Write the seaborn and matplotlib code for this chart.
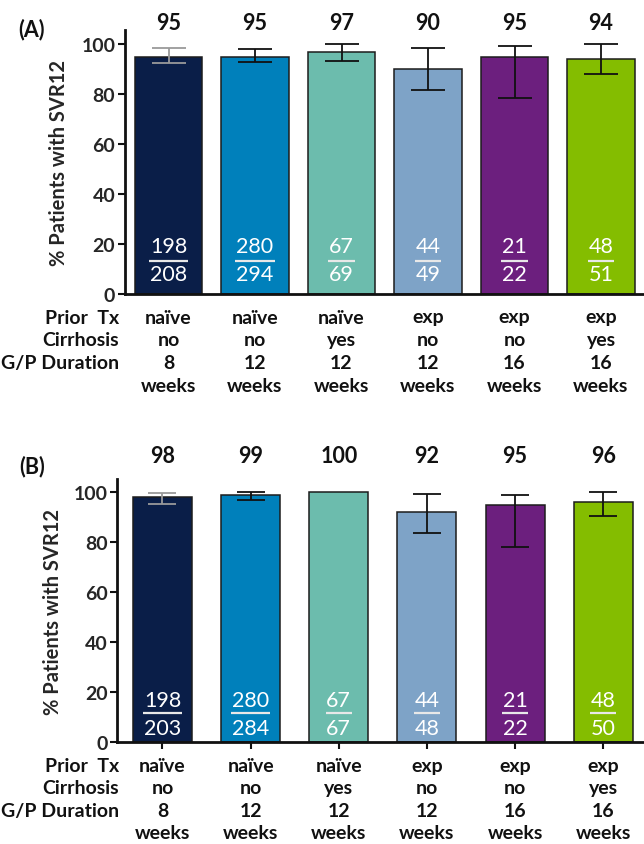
import matplotlib
matplotlib.use("Agg")
import matplotlib.pyplot as plt
import matplotlib.transforms as mtransforms
import numpy as np
import pandas as pd
import seaborn as sns

# ---- data -------------------------------------------------------------
groups = ["naïve/no/8", "naïve/no/12", "naïve/yes/12",
          "exp/no/12", "exp/no/16", "exp/yes/16"]
prior_tx = ["naïve", "naïve", "naïve", "exp", "exp", "exp"]
cirrhosis = ["no", "no", "yes", "no", "no", "yes"]
duration = ["8", "12", "12", "12", "16", "16"]
row_titles = ["Prior  Tx", "Cirrhosis", "G/P Duration"]
colors = ["#0a1e48", "#0080bb", "#6cbcad", "#7ea3c7", "#6c1f7e", "#84bd00"]
errbar_colors = ["#9a9a9a", "#111111", "#111111", "#111111", "#111111", "#111111"]

# (A) ITT
svr_a = [95, 95, 97, 90, 95, 94]
ci_low_a = [92.4, 93.0, 93.2, 81.6, 78.4, 87.9]
ci_high_a = [98.3, 97.9, 100.0, 98.4, 99.3, 100.0]
num_a = [198, 280, 67, 44, 21, 48]
den_a = [208, 294, 69, 49, 22, 51]

# (B) mITT
svr_b = [98, 99, 100, 92, 95, 96]
ci_low_b = [95.2, 97.1, np.nan, 83.6, 78.2, 90.5]
ci_high_b = [99.7, 100.0, np.nan, 99.5, 99.1, 100.0]
num_b = [198, 280, 67, 44, 21, 48]
den_b = [203, 284, 67, 48, 22, 50]

W, H = 644, 845
sns.set_theme(style="ticks")
plt.rcParams["font.family"] = ["Lato", "DejaVu Sans"]

fig = plt.figure(figsize=(W / 100, H / 100), dpi=100)


def px_rect(left, top, right, bottom):
    return [left / W, 1 - bottom / H, (right - left) / W, (bottom - top) / H]


def draw_panel(rect, ylim_top, xlim, bar_width, capsize, svr, lo, hi, num, den,
               label_y, frac_y, show_xticks, ylabel_x, letter, letter_xy, rows_y):
    ax = fig.add_axes(rect)
    df = pd.DataFrame({"group": groups, "svr": svr})
    sns.barplot(data=df, x="group", y="svr", hue="group", order=groups,
                hue_order=groups, palette=colors, saturation=1, dodge=False,
                legend=False, width=bar_width, edgecolor="#1c1c1c", linewidth=1.1,
                errorbar=None, ax=ax, zorder=2)

    for i in range(len(groups)):
        if np.isnan(lo[i]):
            continue
        ax.errorbar(i, svr[i], yerr=[[svr[i] - lo[i]], [hi[i] - svr[i]]],
                    fmt="none", ecolor=errbar_colors[i], elinewidth=1.3,
                    capsize=capsize, capthick=1.3, zorder=3)

    for i, v in enumerate(svr):
        ax.text(i, label_y, f"{v}", ha="center", va="center", fontsize=15.5,
                fontweight="bold", color="#111111", clip_on=False)

    # n / N fractions inside the bars
    fig.canvas.draw()
    renderer = fig.canvas.get_renderer()
    px_per_unit = ax.transData.transform((1, 0))[0] - ax.transData.transform((0, 0))[0]
    ny, ly, dy = frac_y
    for i in range(len(groups)):
        t1 = ax.text(i, ny, f"{num[i]}", ha="center", va="center",
                     fontsize=15.5, color="white", zorder=4)
        t2 = ax.text(i, dy, f"{den[i]}", ha="center", va="center",
                     fontsize=15.5, color="white", zorder=4)
        wpx = max(t1.get_window_extent(renderer).width,
                  t2.get_window_extent(renderer).width)
        half = wpx / px_per_unit / 2
        ax.plot([i - half, i + half], [ly, ly], color="#e8e8e8", lw=1.6,
                solid_capstyle="butt", zorder=4)

    ax.set_xlim(*xlim)
    ax.set_ylim(0, ylim_top)
    ax.set_yticks([0, 20, 40, 60, 80, 100])
    ax.set_yticklabels(["0", "20", "40", "60", "80", "100"],
                       fontsize=14, fontweight="bold")
    ax.set_xticks(range(len(groups)))
    ax.set_xticklabels([""] * len(groups))
    ax.set_xlabel("")
    ax.set_ylabel("% Patients with SVR12", fontsize=14.5, fontweight="bold")
    ax.yaxis.set_label_coords(ylabel_x, 0.5)
    ax.tick_params(axis="y", direction="out", length=5, width=1.5, color="#111111", pad=2)
    if show_xticks:
        ax.tick_params(axis="x", direction="out", length=5, width=1.5, color="#111111")
    else:
        ax.tick_params(axis="x", length=0)
    sns.despine(ax=ax)
    for s in ("left", "bottom"):
        ax.spines[s].set_linewidth(2.0)
        ax.spines[s].set_color("#111111")

    # patient characteristics rows under the bars
    blend = mtransforms.blended_transform_factory(ax.transData, fig.transFigure)
    row_vals = [prior_tx, cirrhosis, duration, ["weeks"] * len(groups)]
    for r, y in enumerate(rows_y):
        yf = 1 - y / H
        if r < 3:
            fig.text(119 / W, yf, row_titles[r], ha="right", va="center",
                     fontsize=14, fontweight="bold", color="#111111")
        for i, val in enumerate(row_vals[r]):
            ax.text(i, yf, val, transform=blend, ha="center", va="center",
                    fontsize=14, fontweight="bold", color="#111111", clip_on=False)

    fig.text(letter_xy[0] / W, 1 - letter_xy[1] / H, letter, ha="center",
             va="center", fontsize=15.5, fontweight="bold", color="#111111")
    return ax


draw_panel(px_rect(125, 31, 644, 295), 105.6, (-0.503, 5.497), 0.775, 11.9,
           svr_a, ci_low_a, ci_high_a, num_a, den_a,
           label_y=108.8, frac_y=(19.1, 13.2, 8.0), show_xticks=False,
           ylabel_x=(69 - 125) / 519, letter="(A)", letter_xy=(32, 30),
           rows_y=(318, 341, 364, 387))

draw_panel(px_rect(117.3, 480, 647.3, 743.3), 105.3, (-0.512, 5.5), 0.67, 10.0,
           svr_b, ci_low_b, ci_high_b, num_b, den_b,
           label_y=114.5, frac_y=(17.0, 11.6, 5.8), show_xticks=True,
           ylabel_x=(63 - 117.3) / 530, letter="(B)", letter_xy=(32, 467),
           rows_y=(767, 789, 812, 834))

fig.savefig("out.png", dpi=100)
